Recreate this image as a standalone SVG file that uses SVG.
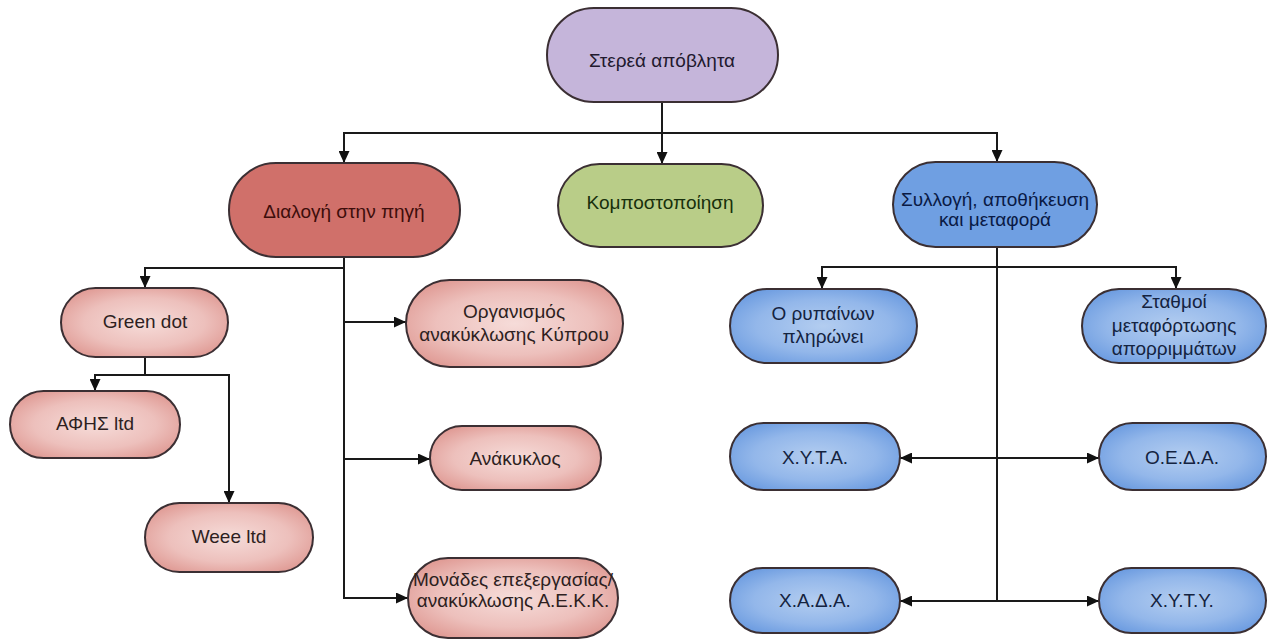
<svg xmlns="http://www.w3.org/2000/svg" width="1269" height="641" viewBox="0 0 1269 641">
<defs>
<marker id="arr" markerUnits="userSpaceOnUse" markerWidth="12" markerHeight="11" refX="12" refY="5.5" orient="auto">
<path d="M0,0 L12,5.5 L0,11 z" fill="#111"/>
</marker>
<radialGradient id="gRed" cx="50%" cy="50%" r="60%">
<stop offset="0" stop-color="#f6dcd9"/>
<stop offset="0.6" stop-color="#edc0bc"/>
<stop offset="1" stop-color="#df9993"/>
</radialGradient>
<radialGradient id="gBlue" cx="50%" cy="50%" r="60%">
<stop offset="0" stop-color="#b3cdf0"/>
<stop offset="0.6" stop-color="#93b7ea"/>
<stop offset="1" stop-color="#6b9be0"/>
</radialGradient>
<style>
.n{stroke:#3b2f33;stroke-width:2}
.root{fill:#c5b5da}
.sort{fill:#d0706a}
.comp{fill:#b9cd88}
.coll{fill:#6f9fe2}
.lr{fill:url(#gRed)}
.lb{fill:url(#gBlue)}
text{font-family:"Liberation Sans",Arial,sans-serif;font-size:19px;text-anchor:middle}
.tr{fill:#22192e}
.td{fill:#3d0d0b}
.tg{fill:#18300c}
.tb{fill:#0a1a45}
.tl{fill:#2e1f1f}
.tn{fill:#142340}
.c{fill:none;stroke:#1a1a1a;stroke-width:2}
</style>
</defs>
<rect width="1269" height="641" fill="#ffffff"/>
<g id="connectors">
<path class="c" d="M662,102 V133 H344 V163" marker-end="url(#arr)"/>
<path class="c" d="M662,102 V164" marker-end="url(#arr)"/>
<path class="c" d="M662,133 H997 V162" marker-end="url(#arr)"/>
<path class="c" d="M344,257 V268 H145 V288" marker-end="url(#arr)"/>
<path class="c" d="M344,257 V322 H406" marker-end="url(#arr)"/>
<path class="c" d="M344,257 V459 H430" marker-end="url(#arr)"/>
<path class="c" d="M344,257 V598 H408" marker-end="url(#arr)"/>
<path class="c" d="M145,357 V375 H95 V391" marker-end="url(#arr)"/>
<path class="c" d="M145,375 H229 V503" marker-end="url(#arr)"/>
<path class="c" d="M997,247 V267 H822 V289" marker-end="url(#arr)"/>
<path class="c" d="M997,267 H1176 V289" marker-end="url(#arr)"/>
<path class="c" d="M997,247 V458 H900" marker-end="url(#arr)"/>
<path class="c" d="M997,458 H1099" marker-end="url(#arr)"/>
<path class="c" d="M997,458 V601 H900" marker-end="url(#arr)"/>
<path class="c" d="M997,601 H1099" marker-end="url(#arr)"/>
</g>
<g id="root">
<rect class="n root" x="547" y="8" width="231" height="94" rx="47"/>
<text class="tr" x="662" y="67">Στερεά απόβλητα</text>
</g>
<g id="dialogi">
<rect class="n sort" x="229" y="163" width="231" height="94" rx="47"/>
<text class="td" x="344" y="218">Διαλογή στην πηγή</text>
</g>
<g id="kompost">
<rect class="n comp" x="558" y="164" width="205" height="83" rx="41.5"/>
<text class="tg" x="660" y="209">Κομποστοποίηση</text>
</g>
<g id="syllogi">
<rect class="n coll" x="893" y="162" width="204" height="85" rx="42.5"/>
<text class="tb" x="995" y="206">Συλλογή, αποθήκευση</text>
<text class="tb" x="995" y="226">και μεταφορά</text>
</g>
<g id="greendot">
<rect class="n lr" x="61" y="288" width="167" height="69" rx="34.5"/>
<text class="tl" x="145" y="328">Green dot</text>
</g>
<g id="afis">
<rect class="n lr" x="10" y="391" width="170" height="67" rx="33.5"/>
<text class="tl" x="95" y="430">ΑΦΗΣ ltd</text>
</g>
<g id="weee">
<rect class="n lr" x="145" y="503" width="168" height="69" rx="34.5"/>
<text class="tl" x="229" y="543">Weee ltd</text>
</g>
<g id="organismos">
<rect class="n lr" x="406" y="280" width="217" height="87" rx="43.5"/>
<text class="tl" x="514" y="318">Οργανισμός</text>
<text class="tl" x="514" y="341">ανακύκλωσης Κύπρου</text>
</g>
<g id="anakyklos">
<rect class="n lr" x="430" y="426" width="171" height="64" rx="32"/>
<text class="tl" x="515" y="465">Ανάκυκλος</text>
</g>
<g id="monades">
<rect class="n lr" x="408" y="558" width="210" height="80" rx="40"/>
<text class="tl" x="513" y="586">Μονάδες επεξεργασίας/</text>
<text class="tl" x="513" y="607">ανακύκλωσης Α.Ε.Κ.Κ.</text>
</g>
<g id="rypainon">
<rect class="n lb" x="730" y="289" width="187" height="74" rx="37"/>
<text class="tn" x="823" y="320">Ο ρυπαίνων</text>
<text class="tn" x="823" y="343">πληρώνει</text>
</g>
<g id="stathmoi">
<rect class="n lb" x="1082" y="289" width="184" height="74" rx="37"/>
<text class="tn" x="1174" y="308">Σταθμοί</text>
<text class="tn" x="1174" y="332">μεταφόρτωσης</text>
<text class="tn" x="1174" y="355">απορριμμάτων</text>
</g>
<g id="xyta">
<rect class="n lb" x="730" y="423" width="170" height="67" rx="33.5"/>
<text class="tn" x="815" y="464">Χ.Υ.Τ.Α.</text>
</g>
<g id="oeda">
<rect class="n lb" x="1099" y="423" width="167" height="67" rx="33.5"/>
<text class="tn" x="1182" y="464">Ο.Ε.Δ.Α.</text>
</g>
<g id="xada">
<rect class="n lb" x="730" y="568" width="170" height="65" rx="32.5"/>
<text class="tn" x="815" y="607">Χ.Α.Δ.Α.</text>
</g>
<g id="xyty">
<rect class="n lb" x="1099" y="568" width="167" height="65" rx="32.5"/>
<text class="tn" x="1182" y="607">Χ.Υ.Τ.Υ.</text>
</g>
</svg>
